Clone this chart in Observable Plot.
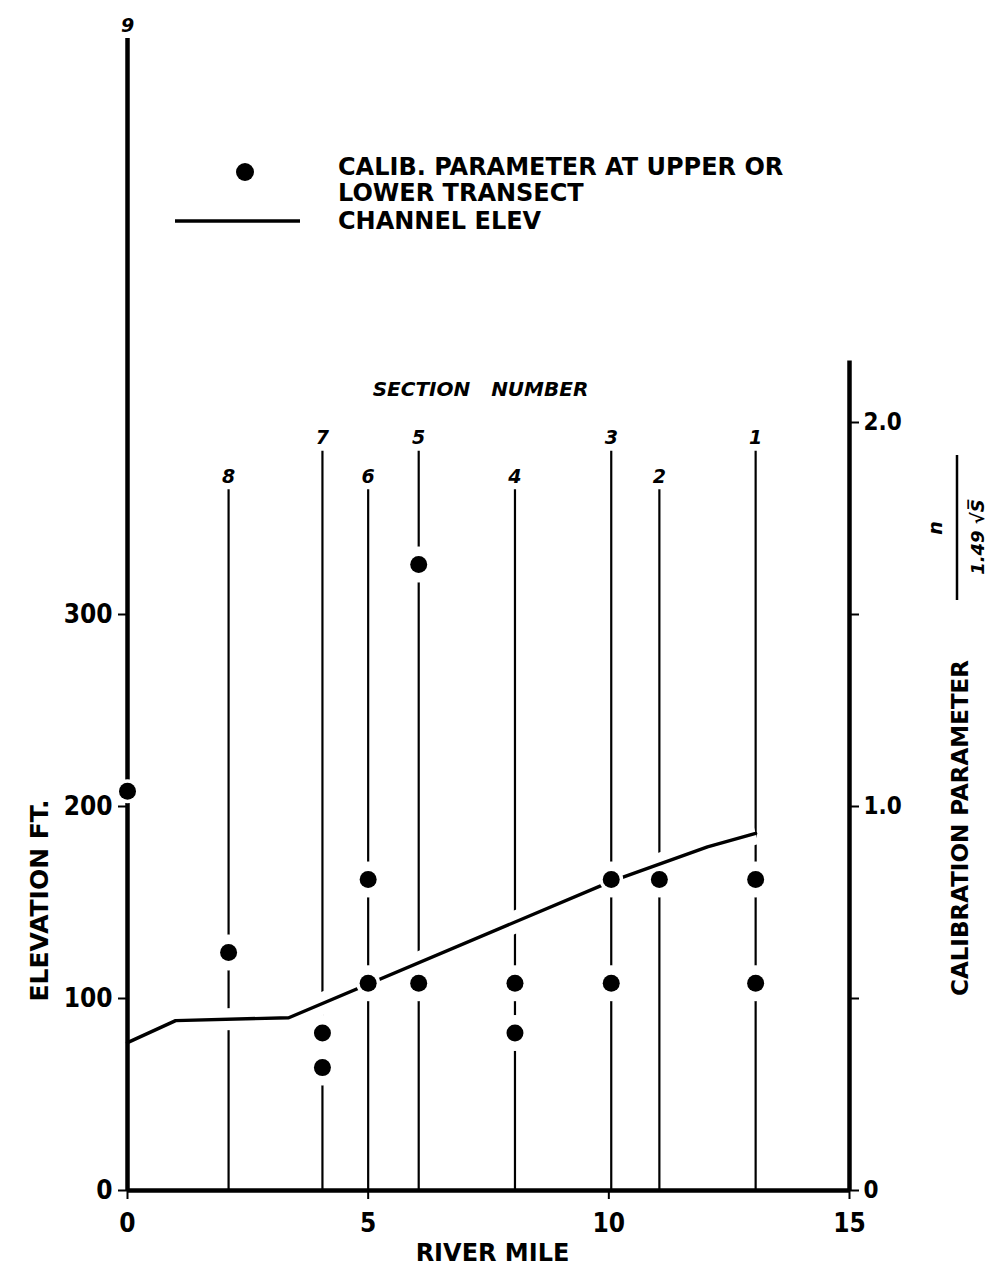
<!DOCTYPE html>
<html><head><meta charset="utf-8">
<script src="https://cdn.jsdelivr.net/npm/d3@7"></script>
<script src="https://cdn.jsdelivr.net/npm/@observablehq/plot@0.6"></script>
<style>
body{margin:0;background:#fff;}
#wrap{position:relative;width:996px;height:1277px;}
#wrap svg{display:block}
#overlay{position:absolute;left:0;top:0;pointer-events:none}
.lab{font-family:"DejaVu Sans",sans-serif;font-weight:bold}
</style></head><body><div id="wrap"></div>
<script>
// ---- data ----
const sectionNumbers = ["9","8","7","6","5","4","3","2","1"];
const sectionMiles   = [0, 2.1, 4.05, 5.0, 6.05, 8.05, 10.05, 11.05, 13.05];
const sectionTopsFt  = [600, 365, 385, 365, 385, 365, 385, 365, 385];

const calibMiles  = [0, 2.1, 4.05, 4.05, 5.0, 5.0, 6.05, 6.05, 8.05, 8.05, 10.05, 10.05, 11.05, 13.05, 13.05];
const calibValues = [1.04, 0.62, 0.41, 0.32, 0.81, 0.54, 1.63, 0.54, 0.54, 0.41, 0.81, 0.54, 0.81, 0.81, 0.54];

const channelMiles  = [0, 1.0, 3.35, 10.05, 12.05, 13.05];
const channelElevFt = [77, 88.5, 90, 161, 179, 186];

const xTicks = [0, 5, 10, 15];
const elevTicks = [0, 100, 200, 300];
const calibTicks = [0, 0.5, 1.0, 1.5, 2.0];
const calibTickLabels = ["0", "", "1.0", "", "2.0"];
const calibAxisTop = 2.16;
const ftPerCalib = 200; // right axis: 1.0 calibration parameter = 200 ft on the left scale
const xDomain = [0, 15];
const yDomainFt = [0, 600];

// ---- tables ----
const sections = sectionNumbers.map((n, i) => ({n, mile: sectionMiles[i], top: sectionTopsFt[i]}));
const calib = calibMiles.map((m, i) => ({mile: m, elev: calibValues[i] * ftPerCalib}));
const channel = channelMiles.map((m, i) => ({mile: m, elev: channelElevFt[i]}));
const FONT = '"DejaVu Sans",sans-serif';
const TICKFONT = '"DejaVu Sans Condensed","DejaVu Sans",sans-serif';

const chart = Plot.plot({
  width: 996, height: 1277,
  marginLeft: 127, marginRight: 147, marginTop: 38, marginBottom: 87,
  x: {domain: xDomain},
  y: {domain: yDomainFt},
  style: {fontFamily: FONT, fontWeight: "bold", background: "#fff", color: "#000", overflow: "visible"},
  marks: [
    // section lines
    Plot.ruleX(sections.filter(d => d.n !== "9"), {x: "mile", y1: 0, y2: "top", stroke: "#000", strokeWidth: 2.2}),
    // gaps in section lines around the points
    Plot.dot(calib, {x: "mile", y: "elev", r: 18, fill: "#fff"}),
    // channel elevation with a white gap where it crosses section lines
    Plot.line(channel, {x: "mile", y: "elev", stroke: "#fff", strokeWidth: 22, strokeLinecap: "butt", strokeLinejoin: "round"}),
    Plot.line(channel, {x: "mile", y: "elev", stroke: "#000", strokeWidth: 3.4, strokeLinejoin: "round"}),
    // frame lines
    Plot.ruleX(sections.filter(d => d.n === "9"), {x: "mile", y1: 0, y2: "top", stroke: "#000", strokeWidth: 4.5}),
    Plot.ruleY([0], {x1: xDomain[0], x2: xDomain[1], stroke: "#000", strokeWidth: 4.5}),
    Plot.ruleX([xDomain[1]], {y1: 0, y2: calibAxisTop * ftPerCalib, stroke: "#000", strokeWidth: 4.5}),
    Plot.axisX({ticks: xTicks, tickSize: 9, tickPadding: 14, fontSize: 26, fontFamily: TICKFONT, strokeWidth: 2, label: null}),
    Plot.axisY({anchor: "left", ticks: elevTicks, tickSize: 9, tickPadding: 6, fontSize: 26, fontFamily: TICKFONT, strokeWidth: 2, label: null}),
    Plot.axisY({anchor: "right", ticks: calibTicks.map(c => c * ftPerCalib),
      tickFormat: d => calibTickLabels[calibTicks.indexOf(d / ftPerCalib)], tickSize: 9, tickPadding: 5, fontSize: 24, fontFamily: TICKFONT, strokeWidth: 2, label: null}),
    // points (small halo so the channel line breaks where a point sits on it)
    Plot.dot(calib, {x: "mile", y: "elev", r: 12, fill: "#fff"}),
    Plot.dot(calib, {x: "mile", y: "elev", r: 8.5, fill: "#000"}),
    // labels
    Plot.text(sections, {x: "mile", y: "top", text: "n", dy: -13, fontSize: 19, fontStyle: "italic", fill: "#000"}),
    Plot.text(["SECTION   NUMBER"], {frameAnchor: "top", dx: -8, dy: 343, fontSize: 20, fontStyle: "italic", fill: "#000"}),
    Plot.text(["ELEVATION FT."], {frameAnchor: "left", textAnchor: "middle", dx: -88, dy: 286, rotate: -90, fontSize: 25, fill: "#000"}),
    Plot.text(["RIVER MILE"], {frameAnchor: "bottom", dx: 4, dy: 70, fontSize: 24, fill: "#000"})
  ]
});
const wrap = document.getElementById("wrap");
wrap.appendChild(chart);

// legend and right-hand label (overlay)
const ns = "http://www.w3.org/2000/svg";
const ov = document.createElementNS(ns, "svg");
ov.setAttribute("id", "overlay");
ov.setAttribute("width", 996); ov.setAttribute("height", 1277);
ov.innerHTML = `
<g class="lab" fill="#000">
  <circle cx="245" cy="172" r="9"/>
  <line x1="175" x2="300" y1="221" y2="221" stroke="#000" stroke-width="3.5"/>
  <text x="338" y="175" font-size="24">CALIB. PARAMETER AT UPPER OR</text>
  <text x="338" y="201" font-size="24">LOWER TRANSECT</text>
  <text x="338" y="229" font-size="24">CHANNEL ELEV</text>
  <text transform="translate(968,828) rotate(-90)" text-anchor="middle" font-size="23">CALIBRATION PARAMETER</text>
  <line x1="957" x2="957" y1="455" y2="600" stroke="#000" stroke-width="2.5"/>
  <text transform="translate(942,528) rotate(-90)" text-anchor="middle" font-size="19" font-style="italic">n</text>
  <text transform="translate(984,537) rotate(-90)" text-anchor="middle" font-size="18" font-style="italic">1.49 √S&#x0305;</text>
</g>`;
wrap.appendChild(ov);
</script>
</body></html>
